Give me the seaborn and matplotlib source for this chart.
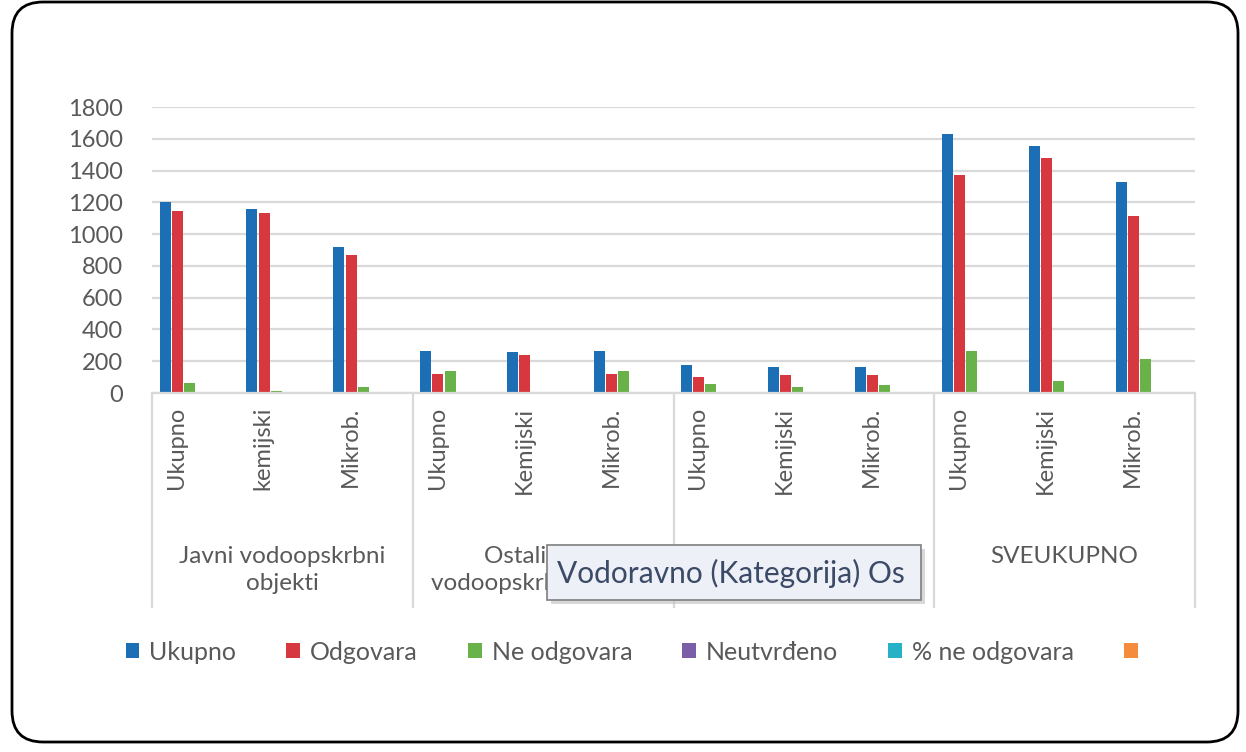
import numpy as np
import pandas as pd
import matplotlib
matplotlib.use("Agg")
import matplotlib.pyplot as plt
import seaborn as sns
from matplotlib.patches import FancyBboxPatch, Rectangle

# podaci procijenjeni sa slike
groups = ["Javni vodoopskrbni\nobjekti",
          "Ostali javni\nvodoopskrbni objekti",
          "Lokalni i ostali\nvodoopskrbni objekti",
          "SVEUKUPNO"]
tick_labels = ["Ukupno", "kemijski", "Mikrob.",
               "Ukupno", "Kemijski", "Mikrob.",
               "Ukupno", "Kemijski", "Mikrob.",
               "Ukupno", "Kemijski", "Mikrob."]
series = ["Ukupno", "Odgovara", "Ne odgovara", "Neutvrđeno", "% ne odgovara", " "]
colors = ["#1d6fb5", "#d7383f", "#69b24a", "#7b5ea8", "#27b1c7", "#f58b3c"]

ukupno = [1200, 1160, 920, 265, 255, 265, 175, 165, 162, 1630, 1555, 1330]
odgovara = [1145, 1130, 870, 122, 240, 120, 100, 112, 112, 1370, 1480, 1115]
ne_odgovara = [60, 15, 35, 138, 0, 138, 58, 38, 50, 262, 75, 215]
neutvrdeno = [0] * 12
posto_ne = [0] * 12
ostalo = [0] * 12

yticks = [0, 200, 400, 600, 800, 1000, 1200, 1400, 1600, 1800]

TXT = "#595959"
GRID = "#d9d9d9"


def main():
    cat_ids = [f"c{i}" for i in range(12)]
    values = [ukupno, odgovara, ne_odgovara, neutvrdeno, posto_ne, ostalo]
    rows = []
    for s, vals in zip(series, values):
        for c, v in zip(cat_ids, vals):
            rows.append({"kat": c, "serija": s, "vrijednost": v})
    df = pd.DataFrame(rows)

    sns.set_style("white")
    plt.rcParams["font.family"] = ["Lato", "DejaVu Sans"]

    fig = plt.figure(figsize=(12.46, 7.52), dpi=100)
    ax = fig.add_axes([152 / 1246, 1 - 393 / 752, (1195 - 152) / 1246, 286 / 752])

    sns.barplot(data=df, x="kat", y="vrijednost", hue="serija", order=cat_ids,
                hue_order=series, palette=colors, saturation=1, width=0.84, gap=0.1,
                linewidth=0, ax=ax, legend=True)

    handles, labels = ax.get_legend_handles_labels()
    ax.get_legend().remove()

    ax.set_ylim(0, 1800)
    ax.set_xlim(-0.5, 11.5)
    ax.set_yticks(yticks)
    ax.set_yticklabels([str(t) for t in yticks], fontsize=17, color=TXT)
    ax.grid(axis="y", color=GRID, linewidth=1.6)
    ax.set_axisbelow(True)
    for sp in ["top", "right", "left"]:
        ax.spines[sp].set_visible(False)
    ax.spines["bottom"].set_color(GRID)
    ax.spines["bottom"].set_linewidth(1.6)
    ax.tick_params(axis="y", length=0, pad=21)
    ax.tick_params(axis="x", length=0, pad=10)
    ax.set_xlabel("")
    ax.set_ylabel("")

    ax.set_xticks(np.arange(12) - 0.22)
    ax.set_xticklabels(tick_labels, rotation=90, fontsize=17, color=TXT)

    # razdjelnici grupa ispod osi
    tr = ax.get_xaxis_transform()
    ax.vlines([-0.5, 2.5, 5.5, 8.5, 11.5], -0.752, 0, transform=tr,
              colors=GRID, linewidth=1.6, clip_on=False)

    for i, g in enumerate(groups):
        ax.text(3 * i + 1, -0.535, g, transform=tr, ha="center", va="top",
                fontsize=17.5, color=TXT, linespacing=1.35)

    # legenda
    fig.legend(handles, labels, loc="center", bbox_to_anchor=(640 / 1246, 1 - 652 / 752),
               ncol=6, frameon=False, fontsize=18, handlelength=0.55, handleheight=0.55,
               handletextpad=0.4, columnspacing=2.0, labelcolor=TXT)

    # oblačić (tooltip)
    shadow = Rectangle((551 / 1246, 1 - 604 / 752), 374 / 1246, 55 / 752,
                       transform=fig.transFigure, facecolor="#bfbfbf", edgecolor="none",
                       alpha=0.6, zorder=9)
    fig.patches.append(shadow)
    tip = Rectangle((547 / 1246, 1 - 600 / 752), 374 / 1246, 55 / 752,
                    transform=fig.transFigure, facecolor="#eef0f8", edgecolor="#7f7f7f",
                    linewidth=1.2, zorder=10)
    fig.patches.append(tip)
    fig.text(731 / 1246, 1 - 573 / 752, "Vodoravno (Kategorija) Os", ha="center",
             va="center", fontsize=21.5, color="#3b4a66", zorder=11)

    # zaobljeni okvir
    frame = FancyBboxPatch((12 / 1246, 10 / 752), 1226 / 1246, 740 / 752,
                           boxstyle="round,pad=0,rounding_size=0.025",
                           transform=fig.transFigure, facecolor="none",
                           edgecolor="black", linewidth=2, zorder=20,
                           mutation_aspect=1246 / 752)
    fig.patches.append(frame)

    fig.savefig("out.png", dpi=100)


if __name__ == "__main__":
    main()
